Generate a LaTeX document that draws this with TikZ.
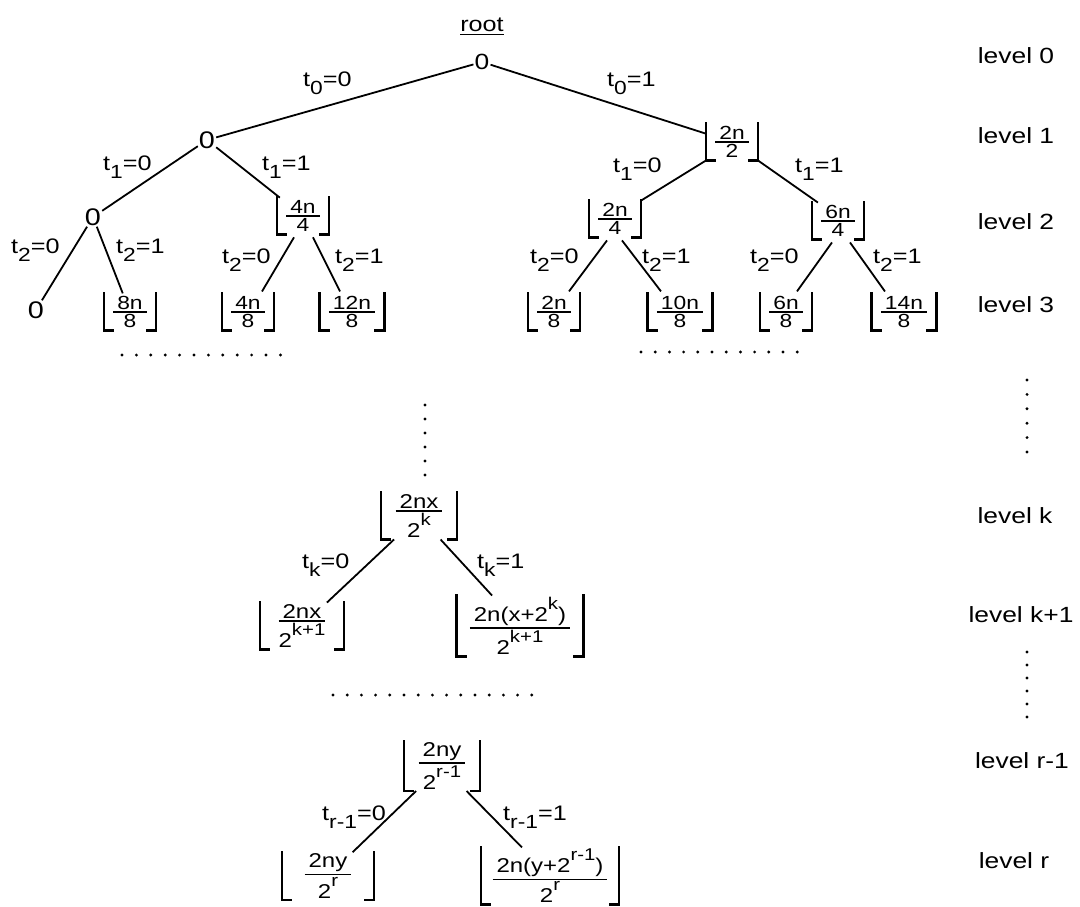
\RequirePackage{fix-cm}
\documentclass[tikz,border=0pt]{standalone}
\usepackage{amsmath}
\usepackage{fontspec}
\setmainfont{Liberation Sans}[FakeStretch=1.2]
\newcommand\sbs[1]{\raisebox{-8pt}{\fontsize{19}{19}\selectfont #1}}
\newcommand\sps[1]{\raisebox{0.6em}{\fontsize{17}{17}\selectfont #1}}
\newcommand\fr[2]{$\genfrac{}{}{1.6pt}{1}{\mbox{\kern4pt#1\kern4pt}}{\mbox{#2}}$}
\newcommand\flr[1]{\draw[br] ([xshift=9pt]#1.south west) -- (#1.south west) -- (#1.north west) ([xshift=-9pt]#1.south east) -- (#1.south east) -- (#1.north east);}
\tikzset{
 ed/.style={line width=1.8pt},
 tl/.style={font=\fontsize{21}{24}\selectfont, inner sep=0pt, anchor=base west},
 zero/.style={font=\fontsize{24}{26}\selectfont, inner sep=1pt},
 fl/.style={font=\fontsize{19}{21}\selectfont, inner xsep=8pt, inner ysep=2.5pt},
 flb/.style={font=\fontsize{20}{22}\selectfont, inner ysep=1.5pt},
 lv/.style={font=\fontsize{22}{24}\selectfont, inner sep=0pt},
 br/.style={line width=2.4pt, line cap=rect}
}
\begin{document}
\begin{tikzpicture}[x=1pt,y=-1pt]
\useasboundingbox (0,0) rectangle (1080,907);
% tree nodes
\node[tl, anchor=center] (rl) at (482,27) {\underline{root}};
\node[zero, font=\fontsize{22}{24}\selectfont] (r) at (482,62) {0};
\node[zero] (a) at (207,140) {0};
\node[fl] (b) at (732,142) {\fr{2n}{2}};
\node[zero] (aa) at (93,217) {0};
\node[fl] (ab) at (303,216) {\fr{4n}{4}};
\node[fl] (ba) at (615,219) {\fr{2n}{4}};
\node[fl] (bb) at (838,221) {\fr{6n}{4}};
\node[zero] (aaa) at (36,310) {0};
\node[fl] (aab) at (130,312) {\fr{8n}{8}};
\node[fl] (aba) at (248,312) {\fr{4n}{8}};
\node[fl] (abb) at (352,312) {\fr{12n}{8}};
\node[fl] (baa) at (554,312) {\fr{2n}{8}};
\node[fl] (bab) at (680,312) {\fr{10n}{8}};
\node[fl] (bba) at (786,312) {\fr{6n}{8}};
\node[fl] (bbb) at (904,312) {\fr{14n}{8}};
\node[flb, inner xsep=13pt] (k) at (419,516) {\fr{2nx}{2\sps{k}}};
\node[flb, inner xsep=17pt] (k0) at (302,626) {\fr{2nx}{2\sps{k+1}}};
\node[flb, inner xsep=12pt] (k1) at (520,626) {\fr{2n(x+2\sps{k})}{2\sps{k+1}}};
\node[flb, inner xsep=13pt] (q) at (442,766) {\fr{2ny}{2\sps{r-1}}};
\node[flb, inner xsep=21pt] (q0) at (328,876) {\fr{2ny}{2\sps{r}}};
\node[flb, inner xsep=10pt] (q1) at (550,876) {\fr{2n(y+2\sps{r-1})}{2\sps{r}}};
\foreach \n in {b,ab,ba,bb,aab,aba,abb,baa,bab,bba,bbb,k,k0,k1,q,q0,q1} {\flr{\n}}
% edges
\draw[ed] (r) -- (a);
\draw[ed] (r) -- (b);
\draw[ed] (a) -- (aa);
\draw[ed] (a) -- (ab);
\draw[ed] (b.south west) -- (ba.north east);
\draw[ed] (b.south east) -- ([xshift=6pt]bb.north west);
\draw[ed] (aa) -- (aaa);
\draw[ed] (aa) -- (aab);
\draw[ed] ([xshift=-9pt,yshift=-3pt]ab.south) -- ([xshift=14pt,yshift=2pt]aba.north);
\draw[ed] ([xshift=10pt,yshift=-3pt]ab.south) -- ([xshift=-12pt,yshift=2pt]abb.north);
\draw[ed] ([xshift=-8pt,yshift=-3pt]ba.south) -- ([xshift=15pt,yshift=2pt]baa.north);
\draw[ed] ([xshift=7pt,yshift=-3pt]ba.south) -- ([xshift=-19pt,yshift=2pt]bab.north);
\draw[ed] ([xshift=-6pt,yshift=-3pt]bb.south) -- ([xshift=11pt,yshift=2pt]bba.north);
\draw[ed] ([xshift=12pt,yshift=-3pt]bb.south) -- ([xshift=-19pt,yshift=2pt]bbb.north);
\draw[ed] (k) -- (k0);
\draw[ed] (k) -- (k1);
\draw[ed] (q) -- (q0);
\draw[ed] (q) -- (q1);
% edge labels
\node[tl] (e1) at (303,87) {t\sbs{0}=0};
\node[tl] (e2) at (607,87) {t\sbs{0}=1};
\node[tl] (e3) at (103,170) {t\sbs{1}=0};
\node[tl] (e4) at (262,170) {t\sbs{1}=1};
\node[tl] (e5) at (613,172) {t\sbs{1}=0};
\node[tl] (e6) at (795,172) {t\sbs{1}=1};
\node[tl] (e7) at (11,253) {t\sbs{2}=0};
\node[tl] (e8) at (116,253) {t\sbs{2}=1};
\node[tl] (e9) at (222,263) {t\sbs{2}=0};
\node[tl] (e10) at (335,263) {t\sbs{2}=1};
\node[tl] (e11) at (530,263) {t\sbs{2}=0};
\node[tl] (e12) at (642,263) {t\sbs{2}=1};
\node[tl] (e13) at (750,263) {t\sbs{2}=0};
\node[tl] (e14) at (873,263) {t\sbs{2}=1};
\node[tl] (e15) at (302,568) {t\sbs{k}=0};
\node[tl] (e16) at (477,568) {t\sbs{k}=1};
\node[tl] (e17) at (322,820) {t\sbs{r-1}=0};
\node[tl] (e18) at (503,820) {t\sbs{r-1}=1};
% level labels
\node[lv] (l0) at (1016,56) {level 0};
\node[lv] (l1) at (1016,136) {level 1};
\node[lv] (l2) at (1016,222) {level 2};
\node[lv] (l3) at (1016,305) {level 3};
\node[lv] (lk) at (1015,516) {level k};
\node[lv] (lk1) at (1021,615) {level k+1};
\node[lv] (lr1) at (1022,761) {level r-1};
\node[lv] (lr) at (1014,861) {level r};
% dots
\foreach \i in {0,...,11} \fill (122+\i*14.4,355) circle (1.6pt);
\foreach \i in {0,...,11} \fill (641+\i*14.2,352) circle (1.6pt);
\foreach \i in {0,...,14} \fill (333+\i*14.2,695) circle (1.6pt);
\foreach \i in {0,...,5} \fill (425,405+\i*14) circle (1.6pt);
\foreach \i in {0,...,5} \fill (1027,380+\i*14.4) circle (1.6pt);
\foreach \i in {0,...,5} \fill (1027,652+\i*13) circle (1.6pt);
\end{tikzpicture}
\end{document}
